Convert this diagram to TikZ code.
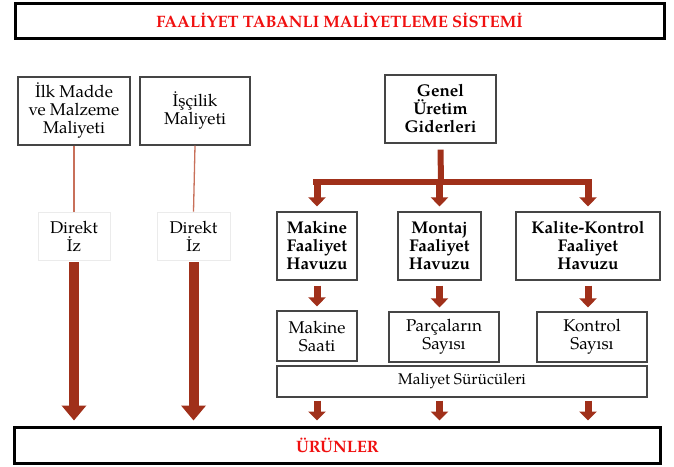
\documentclass[tikz,border=0pt]{standalone}
\usepackage{fontspec}
\setmainfont{texgyrepagella}[Extension=.otf, UprightFont=*-regular, BoldFont=*-bold]
\usetikzlibrary{arrows.meta,shadows}
\definecolor{arrowred}{HTML}{A0301A}
\definecolor{linered}{HTML}{C8705A}
\definecolor{boxgray}{HTML}{454545}
\definecolor{titlered}{HTML}{F01010}
\begin{document}
\begin{tikzpicture}[
    x=1pt, y=-1pt,
    box/.style={draw=boxgray, line width=1.2pt, fill=white, align=center,
                inner sep=1pt, drop shadow={shadow xshift=1.2pt, shadow yshift=-1.2pt, opacity=.3},
                font=\fontsize{17}{18}\selectfont},
    boldbox/.style={box, font=\fontsize{17}{18}\selectfont\bfseries},
    framebox/.style={draw=black, line width=3pt, fill=white,
                drop shadow={shadow xshift=1.5pt, shadow yshift=-1.5pt, opacity=.35},
                font=\fontsize{16.5}{18}\selectfont\bfseries, text=titlered},
    tagbox/.style={draw=black!8, line width=.8pt, align=center,
                font=\fontsize{17}{18}\selectfont},
    bigarr/.style={-{Triangle[width=24pt,length=15pt]}, line width=10pt, arrowred},
    arr/.style={-{Triangle[width=17pt,length=9pt]}, line width=7pt, arrowred},
    trunk/.style={line width=6pt, arrowred},
    thin/.style={line width=1.3pt, linered}
  ]
    \useasboundingbox (0,0) rectangle (674,466);

    \node[framebox, minimum width=649, minimum height=35] (title) at (339.5,20.5) {FAALİYET TABANLI MALİYETLEME SİSTEMİ};

    \node[box, minimum width=112, minimum height=68] (malzeme)  at (74,111)  {İlk Madde\\ve Malzeme\\Maliyeti};
    \node[box, minimum width=110, minimum height=68] (iscilik)  at (195,111) {İşçilik\\Maliyeti};
    \node[boldbox, minimum width=111, minimum height=68] (genel) at (440.5,109) {Genel\\Üretim\\Giderleri};

    \node[tagbox, minimum width=72, minimum height=48] (direkt1) at (74,236)    {Direkt\\İz};
    \node[tagbox, minimum width=73, minimum height=48] (direkt2) at (193.5,236) {Direkt\\İz};

    \node[boldbox, minimum width=80, minimum height=68]  (makine) at (317,246)   {Makine\\Faaliyet\\Havuzu};
    \node[boldbox, minimum width=83, minimum height=68]  (montaj) at (439.5,246) {Montaj\\Faaliyet\\Havuzu};
    \node[boldbox, minimum width=144, minimum height=68] (kalite) at (588,246)   {Kalite-Kontrol\\Faaliyet\\Havuzu};

    \node[box, minimum width=80, minimum height=50]  (saat)    at (317,336) {Makine\\Saati};
    \node[box, minimum width=110, minimum height=50] (parca)   at (444,337) {Parçaların\\Sayısı};
    \node[box, minimum width=110, minimum height=50] (kontrol) at (592,337) {Kontrol\\Sayısı};
    \node[box, minimum width=370, minimum height=31, font=\fontsize{15.5}{17}\selectfont] (surucu) at (462,381.5) {Maliyet Sürücüleri};

    \node[framebox, minimum width=646, minimum height=36] (urunler) at (337.5,445) {ÜRÜNLER};

    \draw[thin] (malzeme.south) -- (direkt1.north);
    \draw[thin] (iscilik.south) -- (direkt2.north);
    \draw[bigarr] ([yshift=-2pt]direkt1.south) -- ([yshift=5pt]direkt1.south |- urunler.north);
    \draw[bigarr] ([yshift=-2pt]direkt2.south) -- ([yshift=5pt]direkt2.south |- urunler.north);

    \coordinate (bus) at (441,182);
    \draw[trunk] ([yshift=-6pt]genel.south) -- (bus);
    \draw[trunk] ([xshift=-4pt]makine.north |- bus) -- ([xshift=4pt]kalite.north |- bus);
    \foreach \n in {makine,montaj,kalite}
      \draw[arr] ([yshift=3pt]\n.north |- bus) -- ([yshift=5pt]\n.north);

    \draw[arr] ([yshift=-5pt]makine.south) -- ([yshift=4pt]makine.south |- saat.north);
    \draw[arr] ([yshift=-5pt]montaj.south) -- ([yshift=4pt]montaj.south |- parca.north);
    \draw[arr] ([yshift=-5pt]kalite.south) -- ([yshift=4pt]kalite.south |- kontrol.north);

    \foreach \n in {makine,montaj,kalite}
      \draw[arr] ([yshift=-3pt]\n.south |- surucu.south) -- ([yshift=5pt]\n.south |- urunler.north);
\end{tikzpicture}
\end{document}
